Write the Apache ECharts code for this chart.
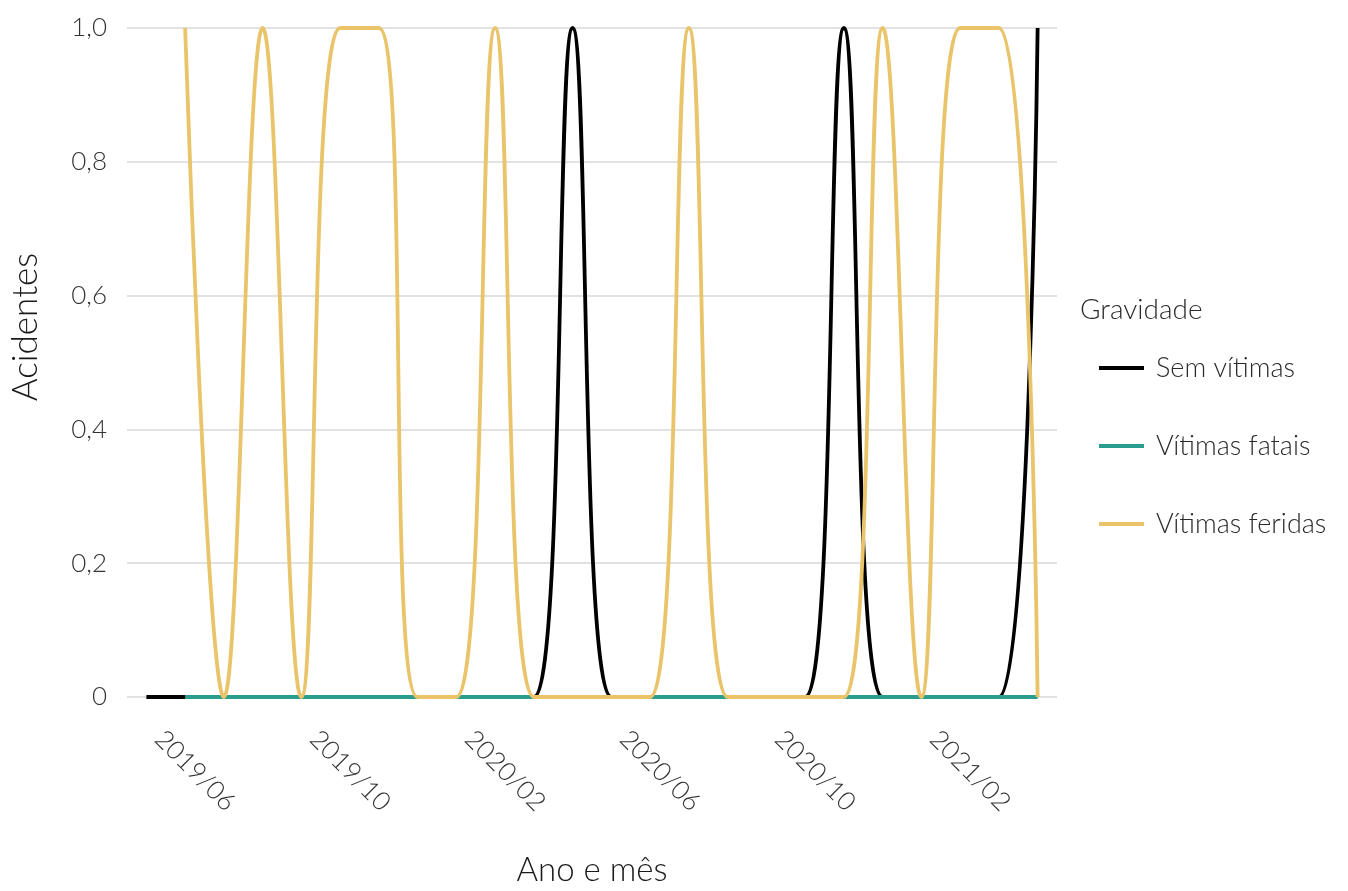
<!DOCTYPE html>
<html>
<head>
<meta charset="utf-8">
<script src="https://cdn.jsdelivr.net/npm/echarts@6/dist/echarts.min.js"></script>
<style>html,body{margin:0;padding:0;background:#fff}#c{width:1348px;height:891px}</style>
</head>
<body>
<div id="c"></div>
<script>
const months = ['2019/06','2019/07','2019/08','2019/09','2019/10','2019/11','2019/12','2020/01','2020/02','2020/03','2020/04','2020/05','2020/06','2020/07','2020/08','2020/09','2020/10','2020/11','2020/12','2021/01','2021/02','2021/03','2021/04','2021/05'];
const semVitimas     = [0,0,0,0,0,0,0,0,0,0,0,1,0,0,0,0,0,0,1,0,0,0,0,1];
const vitimasFatais  = [null,0,0,0,0,0,0,0,0,0,0,0,0,0,0,0,0,0,0,0,0,0,0,0];
const vitimasFeridas = [null,1,0,1,0,1,1,0,0,1,0,0,0,0,1,0,0,0,0,1,0,1,1,0];
const seriesNames = ['Sem vítimas','Vítimas fatais','Vítimas feridas'];
const colors = ['#000000','#2a9d8f','#e9c46a'];
const yTicks = [0,0.2,0.4,0.6,0.8,1.0];

const FONT = 'Lato';
const chart = echarts.init(document.getElementById('c'));
const mk = (name, data, color) => ({
  name, type: 'line', data, smooth: 0.42, showSymbol: false, symbol: 'none',
  connectNulls: false, clip: true,
  lineStyle: {color, width: 3.8}, itemStyle: {color}
});
chart.setOption({
  animation: false,
  color: colors,
  grid: {left: 127, right: 291, top: 28, bottom: 194, containLabel: false},
  xAxis: {
    type: 'category', data: months, boundaryGap: true,
    axisLine: {show: false}, axisTick: {show: false},
    axisLabel: {interval: 3, rotate: -45, margin: 25, padding: [0,0,0,18], fontSize: 26, color: '#333',
      fontFamily: FONT, fontWeight: 300},
    splitLine: {show: false}
  },
  yAxis: {
    type: 'value', min: 0, max: 1, interval: 0.2,
    axisLine: {show: false}, axisTick: {show: false},
    axisLabel: {margin: 20, fontSize: 26, color: '#333', fontFamily: FONT, fontWeight: 300,
      formatter: v => { const t = yTicks.find(x => Math.abs(x - v) < 1e-9); const val = t === undefined ? v : t; return val === 0 ? '0' : val.toFixed(1).replace('.', ','); }},
    splitLine: {show: true, lineStyle: {color: '#d9d9d9', width: 1.5}}
  },
  legend: {
    orient: 'vertical', left: 1099, top: 353, padding: 0,
    icon: 'rect', itemWidth: 45, itemHeight: 4, itemGap: 48,
    textStyle: {fontSize: 27, lineHeight: 30, color: '#2a2a2a', fontFamily: FONT, fontWeight: 300, padding: [0,0,0,7]},
    data: seriesNames
  },
  graphic: [
    {type: 'text', left: 1080, top: 296, style: {text: 'Gravidade', fontSize: 28, fill: '#2a2a2a', fontFamily: FONT, fontWeight: 300}},
    {type: 'text', x: 26, y: 327, rotation: Math.PI/2, style: {text: 'Acidentes', fontSize: 35, fill: '#1a1a1a', fontFamily: FONT, fontWeight: 300, align: 'center', verticalAlign: 'middle'}},
    {type: 'text', x: 592, y: 870, style: {text: 'Ano e mês', fontSize: 33, fill: '#1a1a1a', fontFamily: FONT, fontWeight: 300, align: 'center', verticalAlign: 'middle'}}
  ],
  series: [
    mk(seriesNames[0], semVitimas, colors[0]),
    mk(seriesNames[1], vitimasFatais, colors[1]),
    mk(seriesNames[2], vitimasFeridas, colors[2])
  ]
});
</script>
</body>
</html>
